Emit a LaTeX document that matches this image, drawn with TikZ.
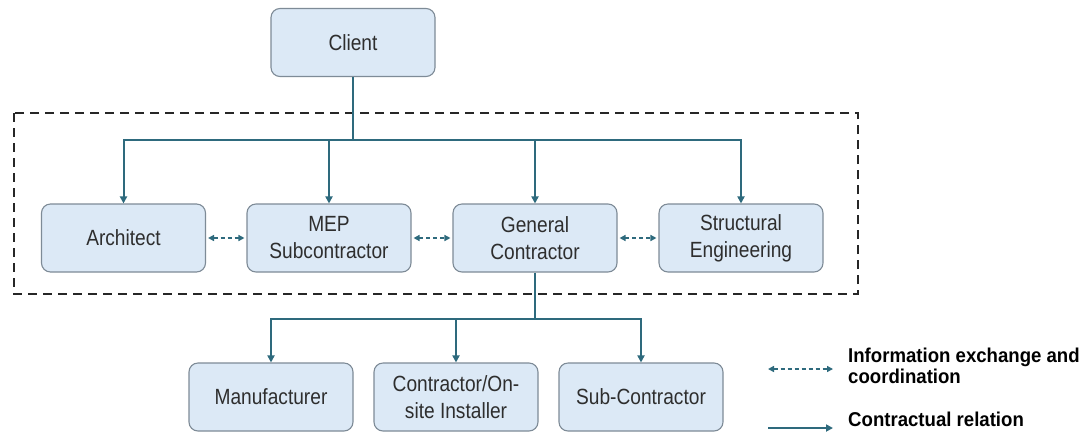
\documentclass[tikz,border=0pt]{standalone}
\usepackage{fontspec}
\setmainfont{Liberation Sans}[FakeStretch=0.87]
\newfontfamily\legendfont{Liberation Sans}[FakeStretch=0.93]
\usetikzlibrary{arrows.meta}
\definecolor{boxfill}{HTML}{DCE9F6}
\definecolor{boxline}{HTML}{7E8B97}
\definecolor{linkcol}{HTML}{2E6A7D}
\definecolor{txtcol}{HTML}{2E2E2E}
\tikzset{
  party/.style={draw=boxline, fill=boxfill, line width=1.1pt, rounded corners=9pt,
    minimum width=164pt, minimum height=68pt, align=center, text=txtcol,
    font=\fontsize{22}{27}\selectfont, inner sep=0pt},
  contract/.style={draw=linkcol, line width=2pt,
    -{Triangle[length=7pt,width=7pt]}},
  trunk/.style={draw=linkcol, line width=2pt},
  info/.style={draw=linkcol, line width=1.6pt, dash pattern=on 4pt off 3pt,
    {Triangle[length=6pt,width=6pt]}-{Triangle[length=6pt,width=6pt]}, shorten <=2pt, shorten >=2pt},
  zone/.style={draw=black!85, line width=2pt, dash pattern=on 9pt off 6pt},
  legtext/.style={anchor=west, align=left, text=black, inner sep=0pt,
    font=\legendfont\bfseries\fontsize{20}{21}\selectfont},
}
\begin{document}
\begin{tikzpicture}[x=1pt,y=-1pt]
\useasboundingbox (0,0) rectangle (1086,432);
\fill[white] (0,0) rectangle (1086,432);

% design team boundary
\draw[zone] (14,113) rectangle (858,294);

% parties
\node[party] (client) at (353,42.5) {Client};
\node[party] (arch)   at (123.5,238) {Architect};
\node[party] (mep)    at (329,238) {MEP\\Subcontractor};
\node[party] (gc)     at (535,238) {General\\Contractor};
\node[party] (struct) at (741,238) {Structural\\Engineering};
\node[party] (manu)   at (271,397) {Manufacturer};
\node[party] (inst)   at (456,397) {Contractor/On-\\site Installer};
\node[party] (sub)    at (641,397) {Sub-Contractor};

% contractual tree from the client
\coordinate (topbus) at (353,140);
\draw[trunk] (client.south) -- (topbus);
\draw[contract] (topbus) -| (arch.north);
\draw[contract] (topbus) -| (mep.north);
\draw[contract] (topbus) -| (gc.north);
\draw[contract] (topbus) -| (struct.north);

% contractual tree from the general contractor
\coordinate (botbus) at (535,319);
\draw[trunk] (gc.south) -- (botbus);
\draw[contract] (botbus) -| (manu.north);
\draw[contract] (botbus) -| (inst.north);
\draw[contract] (botbus) -| (sub.north);

% coordination links
\draw[info] (arch.east) -- (mep.west);
\draw[info] (mep.east) -- (gc.west);
\draw[info] (gc.east) -- (struct.west);

% legend
\coordinate (la1) at (768,369);
\coordinate (la2) at (833,369);
\coordinate (lb1) at (768,428);
\coordinate (lb2) at (833,428);
\draw[info, shorten <=0pt, shorten >=0pt] (la1) -- (la2);
\draw[contract] (lb1) -- (lb2);
\node[legtext] (leginfo) at (848,366) {Information exchange and\\coordination};
\node[legtext] (legcon)  at (848,419) {Contractual relation};
\end{tikzpicture}
\end{document}
